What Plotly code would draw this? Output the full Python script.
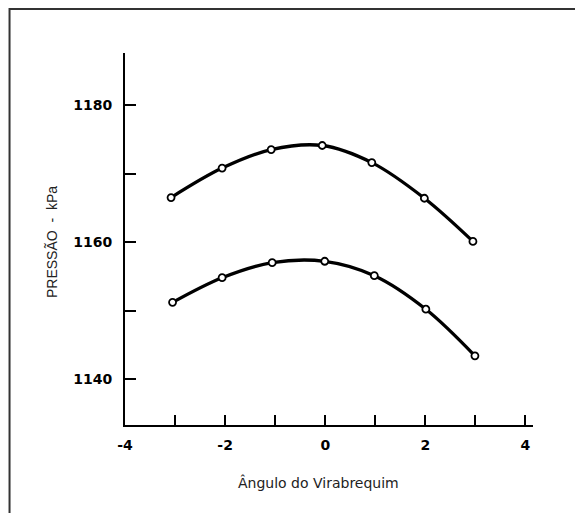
import plotly.graph_objects as go

angle_upper = [-3.08, -2.06, -1.08, -0.06, 0.93, 1.98, 2.95]
pressure_upper = [1166.5, 1170.8, 1173.5, 1174.1, 1171.6, 1166.4, 1160.1]
angle_lower = [-3.05, -2.06, -1.06, -0.01, 0.98, 2.01, 2.99]
pressure_lower = [1151.2, 1154.8, 1157.0, 1157.2, 1155.1, 1150.2, 1143.4]

x_ticks = [-4, -2, 0, 2, 4]
y_ticks = [1140, 1160, 1180]

fig = go.Figure()
for xs, ys in [(angle_upper, pressure_upper), (angle_lower, pressure_lower)]:
    fig.add_trace(go.Scatter(
        x=xs, y=ys, mode="lines+markers",
        line=dict(color="black", width=3.3, shape="spline", smoothing=1.0),
        marker=dict(symbol="circle", size=7, color="white",
                    line=dict(color="black", width=1.8)),
        showlegend=False, cliponaxis=False,
    ))

sans = "Liberation Sans, Arial, sans-serif"
wide = "DejaVu Sans, sans-serif"
fig.update_layout(
    width=575, height=513,
    margin=dict(l=125, r=42, t=53, b=88),
    paper_bgcolor="white", plot_bgcolor="white",
    font=dict(family=sans, color="black"),
    xaxis=dict(
        range=[-4, 4.15], tickvals=x_ticks, ticktext=[str(v) for v in x_ticks],
        showgrid=False, zeroline=False, showline=True, linecolor="black", linewidth=2,
        ticks="inside", ticklen=10, tickwidth=2, tickcolor="black",
        minor=dict(tickvals=[-3, -1, 1, 3], ticks="inside", ticklen=10,
                   tickwidth=2, tickcolor="black", showgrid=False),
        tickfont=dict(size=14, weight="bold", family=wide, color="black"),
        ticklabelstandoff=6,
    ),
    yaxis=dict(
        range=[1133.3, 1187.6], tickvals=y_ticks, ticktext=[str(v) for v in y_ticks],
        showgrid=False, zeroline=False, showline=True, linecolor="black", linewidth=2,
        ticks="inside", ticklen=11, tickwidth=2, tickcolor="black",
        minor=dict(tickvals=[1150, 1170], ticks="inside", ticklen=11,
                   tickwidth=2, tickcolor="black", showgrid=False),
        tickfont=dict(size=14, weight="bold", family=wide, color="black"),
        ticklabelstandoff=8,
    ),
    shapes=[dict(type="rect", xref="paper", yref="paper",
                 x0=-0.283, y0=-0.4, x1=1.3, y1=1.118,
                 line=dict(color="#333333", width=2))],
    annotations=[
        dict(text="Ângulo do Virabrequim", xref="paper", yref="paper",
             x=(318 - 125) / 408, y=(425 - 482) / 372, showarrow=False,
             font=dict(size=14, family=wide, color="#222222"),
             xanchor="center", yanchor="middle"),
        dict(text="PRESSÃO  -  kPa", xref="paper", yref="paper",
             x=(52 - 125) / 408, y=(425 - 242) / 372, showarrow=False, textangle=-90,
             font=dict(size=14, family=sans, color="#222222"),
             xanchor="center", yanchor="middle"),
    ],
)

fig.write_html("out.html")
